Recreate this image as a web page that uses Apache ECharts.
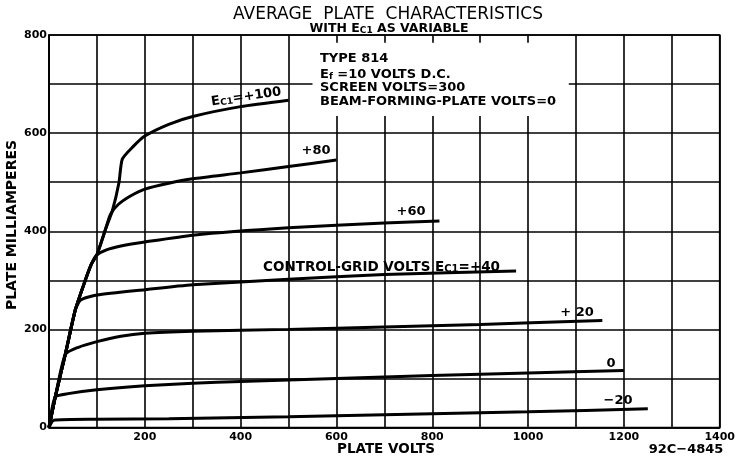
<!DOCTYPE html>
<html><head><meta charset="utf-8">
<script src="https://cdn.jsdelivr.net/npm/echarts@6/dist/echarts.min.js"></script>
<style>html,body{margin:0;padding:0;background:#fff}#c{width:738px;height:459px}</style>
</head><body><div id="c"></div>
<script>
// Plate volts / plate milliamperes readings for each control-grid voltage
const curveM20  = [[0,0],[10,15],[100,17],[250,18],[500,22],[750,27],[1000,32],[1250,38]];
const curve0    = [[0,0],[13,62],[40,69],[100,77],[200,85],[300,90],[400,94],[600,100],[800,106],[1000,111],[1200,116]];
const curveP20  = [[0,0],[13,62],[34,149],[60,163],[100,175],[150,186],[200,192],[300,196],[500,200],[700,205],[900,210],[1155,218]];
const curveP40  = [[0,0],[13,62],[34,149],[55,240],[66,260],[100,270],[200,281],[300,291],[500,302],[700,312],[975,319]];
const curveP60  = [[0,0],[13,62],[34,149],[55,240],[75,298],[88,332],[98,350],[120,362],[150,370],[200,378],[300,392],[500,407],[700,417],[815,421]];
const curveP80  = [[0,0],[13,62],[34,149],[55,240],[75,298],[88,332],[100,352],[118,404],[128,434],[145,455],[170,472],[200,486],[250,498],[300,507],[400,519],[500,532],[600,545]];
const curveP100 = [[0,0],[13,62],[34,149],[55,240],[75,298],[88,332],[100,352],[118,404],[132,441],[146,499],[153,547],[175,572],[200,594],[250,618],[300,634],[400,654],[500,667]];
const curves = [curveM20, curve0, curveP20, curveP40, curveP60, curveP80, curveP100];

const xMin = 0, xMax = 1400, xStep = 100, xLabelStep = 200;
const yMin = 0, yMax = 800, yStep = 100, yLabelStep = 200;
// region of the data-note box (in axis units)
const noteBoxX = [550, 1085];
const noteBoxY = [635, 784];

const FONT = 'DejaVu Sans';
const chart = echarts.init(document.getElementById('c'), null, {renderer: 'canvas'});

function richSub(size) {
  return {
    b: {fontFamily: FONT, fontWeight: 'bold', fontSize: size, color: '#000', lineHeight: size + 4, verticalAlign: 'bottom'},
    s: {fontFamily: FONT, fontWeight: 'bold', fontSize: Math.round(size * 0.72), color: '#000', lineHeight: size + 1, verticalAlign: 'bottom'}
  };
}

function txt(x, y, text, opt) {
  opt = opt || {};
  return {
    type: 'text', x: x, y: y, rotation: opt.rotation || 0, z: 100,
    style: {
      text: text, fill: '#000', font: (opt.weight || 'bold') + ' ' + (opt.size || 13) + 'px "' + FONT + '"',
      align: opt.align || 'center', verticalAlign: 'middle'
    }
  };
}
function rtxt(x, y, text, size, opt) {
  opt = opt || {};
  return {
    type: 'text', x: x, y: y, rotation: opt.rotation || 0, z: 100,
    style: {text: text, align: opt.align || 'center', verticalAlign: 'middle', rich: richSub(size)}
  };
}

const series = curves.map(c => ({
  type: 'line', data: c, showSymbol: false, smooth: 0.2,
  lineStyle: {color: '#000', width: 3}, z: 5, silent: true
}));
series.push({
  type: 'line', data: [], silent: true,
  markArea: {silent: true, itemStyle: {color: '#fff', opacity: 1, borderWidth: 0},
    data: [[{coord: [noteBoxX[0], noteBoxY[0]]}, {coord: [noteBoxX[1], noteBoxY[1]]}]]},
  z: 3
});

chart.setOption({
  animation: false,
  backgroundColor: '#fff',
  grid: {left: 49, right: 17, top: 35, bottom: 31.5, show: true, borderColor: '#000', borderWidth: 1.6, backgroundColor: 'transparent'},
  xAxis: {
    type: 'value', min: xMin, max: xMax, interval: xStep,
    axisLine: {show: true, lineStyle: {color: '#000', width: 1.6}},
    axisTick: {show: false},
    splitLine: {show: true, lineStyle: {color: '#000', width: 1.6}},
    axisLabel: {color: '#000', fontFamily: FONT, fontWeight: 'bold', fontSize: 11, margin: 4,
      formatter: v => (v % xLabelStep === 0 && v !== 0) ? String(v) : ''}
  },
  yAxis: {
    type: 'value', min: yMin, max: yMax, interval: yStep,
    axisLine: {show: true, lineStyle: {color: '#000', width: 1.6}},
    axisTick: {show: false},
    splitLine: {show: true, lineStyle: {color: '#000', width: 1.6}},
    axisLabel: {color: '#000', fontFamily: FONT, fontWeight: 'bold', fontSize: 11, margin: 2,
      formatter: v => (v % yLabelStep === 0) ? String(v) : ''}
  },
  series: series,
  graphic: [
    txt(388, 15, 'AVERAGE  PLATE  CHARACTERISTICS', {size: 17, weight: 'normal'}),
    rtxt(389, 27, '{b|WITH E}{s|C1}{b| AS VARIABLE}', 12.5),
    txt(320, 59, 'TYPE 814', {align: 'left'}),
    rtxt(320, 73, '{b|E}{s|f}{b| =10 VOLTS D.C.}', 13, {align: 'left'}),
    txt(320, 88, 'SCREEN VOLTS=300', {align: 'left'}),
    txt(320, 102, 'BEAM-FORMING-PLATE VOLTS=0', {align: 'left'}),
    rtxt(246, 95, '{b|E}{s|C1}{b|=+100}', 13, {rotation: 0.15}),
    txt(316, 151, '+80'),
    txt(411, 212, '+60'),
    rtxt(263, 266, '{b|CONTROL-GRID VOLTS E}{s|C1}{b|=+40}', 13.5, {align: 'left'}),
    txt(577, 313, '+ 20'),
    txt(611, 364, '0'),
    txt(618, 401, '\u221220'),
    txt(12, 225, 'PLATE MILLIAMPERES', {rotation: Math.PI / 2, size: 14}),
    txt(386, 449, 'PLATE VOLTS', {size: 13.5}),
    txt(686, 450, '92C\u22124845', {size: 13})
  ]
});
</script>
</body></html>
